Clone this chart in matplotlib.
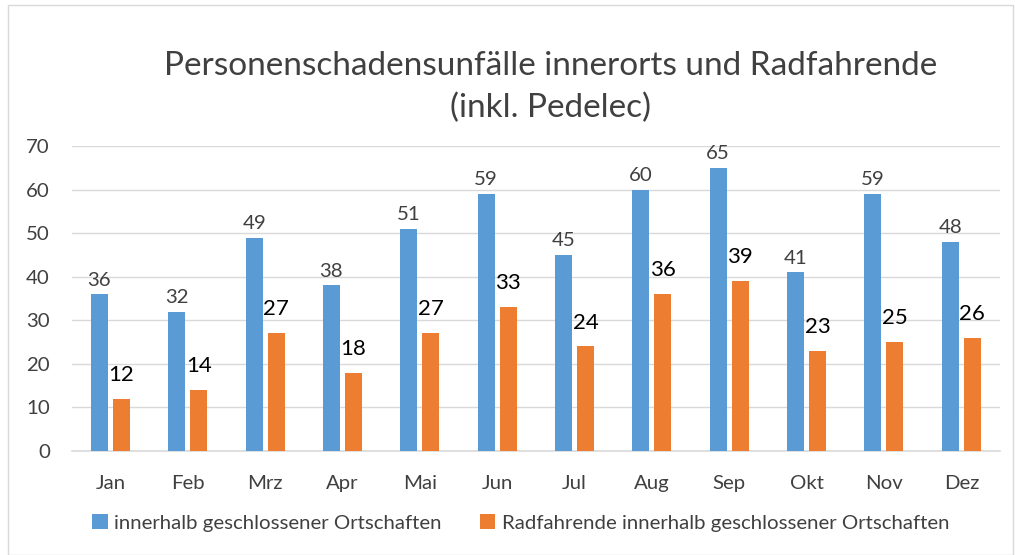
import numpy as np
import matplotlib.pyplot as plt
from matplotlib.patches import Rectangle

months = ['Jan', 'Feb', 'Mrz', 'Apr', 'Mai', 'Jun', 'Jul', 'Aug', 'Sep', 'Okt', 'Nov', 'Dez']
innerorts = [36, 32, 49, 38, 51, 59, 45, 60, 65, 41, 59, 48]
radfahrende = [12, 14, 27, 18, 27, 33, 24, 36, 39, 23, 25, 26]

plt.rcParams['font.family'] = ['Lato', 'DejaVu Sans']

blue = '#5B9BD5'
orange = '#ED7D31'
grey_text = '#404040'

fig = plt.figure(figsize=(10.15, 5.55), dpi=100)
ax = fig.add_axes([72 / 1015, 1 - 451 / 555, 928 / 1015, 305 / 555])

x = np.arange(len(months))
w = 0.22
ax.bar(x - 0.145, innerorts, w, color=blue, label='innerhalb geschlossener Ortschaften', zorder=3)
ax.bar(x + 0.14, radfahrende, w, color=orange, label='Radfahrende innerhalb geschlossener Ortschaften', zorder=3)

for i in range(len(months)):
    ax.annotate(str(innerorts[i]), (x[i] - 0.145, innerorts[i]), xytext=(0, 4),
                textcoords='offset points', ha='center', va='bottom', fontsize=14.7, color=grey_text)
    ax.annotate(str(radfahrende[i]), (x[i] + 0.14, radfahrende[i]), xytext=(0, 10),
                textcoords='offset points', ha='center', va='bottom', fontsize=16, color='black')

ax.set_xlim(-0.5, len(months) - 0.5)
ax.set_ylim(0, 70)
ax.set_yticks(range(0, 71, 10))
ax.set_xticks(x)
ax.set_xticklabels(months)
ax.tick_params(axis='both', length=0, labelsize=14.7, colors=grey_text)
ax.tick_params(axis='x', pad=17)
ax.tick_params(axis='y', pad=16)
ax.grid(axis='y', color='#D9D9D9', linewidth=1, zorder=0)
for s in ['top', 'right', 'left']:
    ax.spines[s].set_visible(False)
ax.spines['bottom'].set_color('#D9D9D9')
ax.spines['bottom'].set_linewidth(1.2)

fig.text(0.542, 1 - 66 / 555, 'Personenschadensunfälle innerorts und Radfahrende',
         ha='center', va='center', fontsize=24, color=grey_text)
fig.text(0.542, 1 - 108 / 555, '(inkl. Pedelec)',
         ha='center', va='center', fontsize=24, color=grey_text)

fig.legend(loc='center', bbox_to_anchor=(0.513, 1 - 523 / 555), ncol=2, frameon=False,
           fontsize=14.7, labelcolor=grey_text, handlelength=0.75, handleheight=0.75,
           handletextpad=0.3, columnspacing=1.9)

fig.patches.append(Rectangle((8 / 1015, 0), 1005 / 1015, 1 - 5 / 555, transform=fig.transFigure,
                             fill=False, edgecolor='#D9D9D9', linewidth=1))

fig.savefig('out.png', dpi=100)
